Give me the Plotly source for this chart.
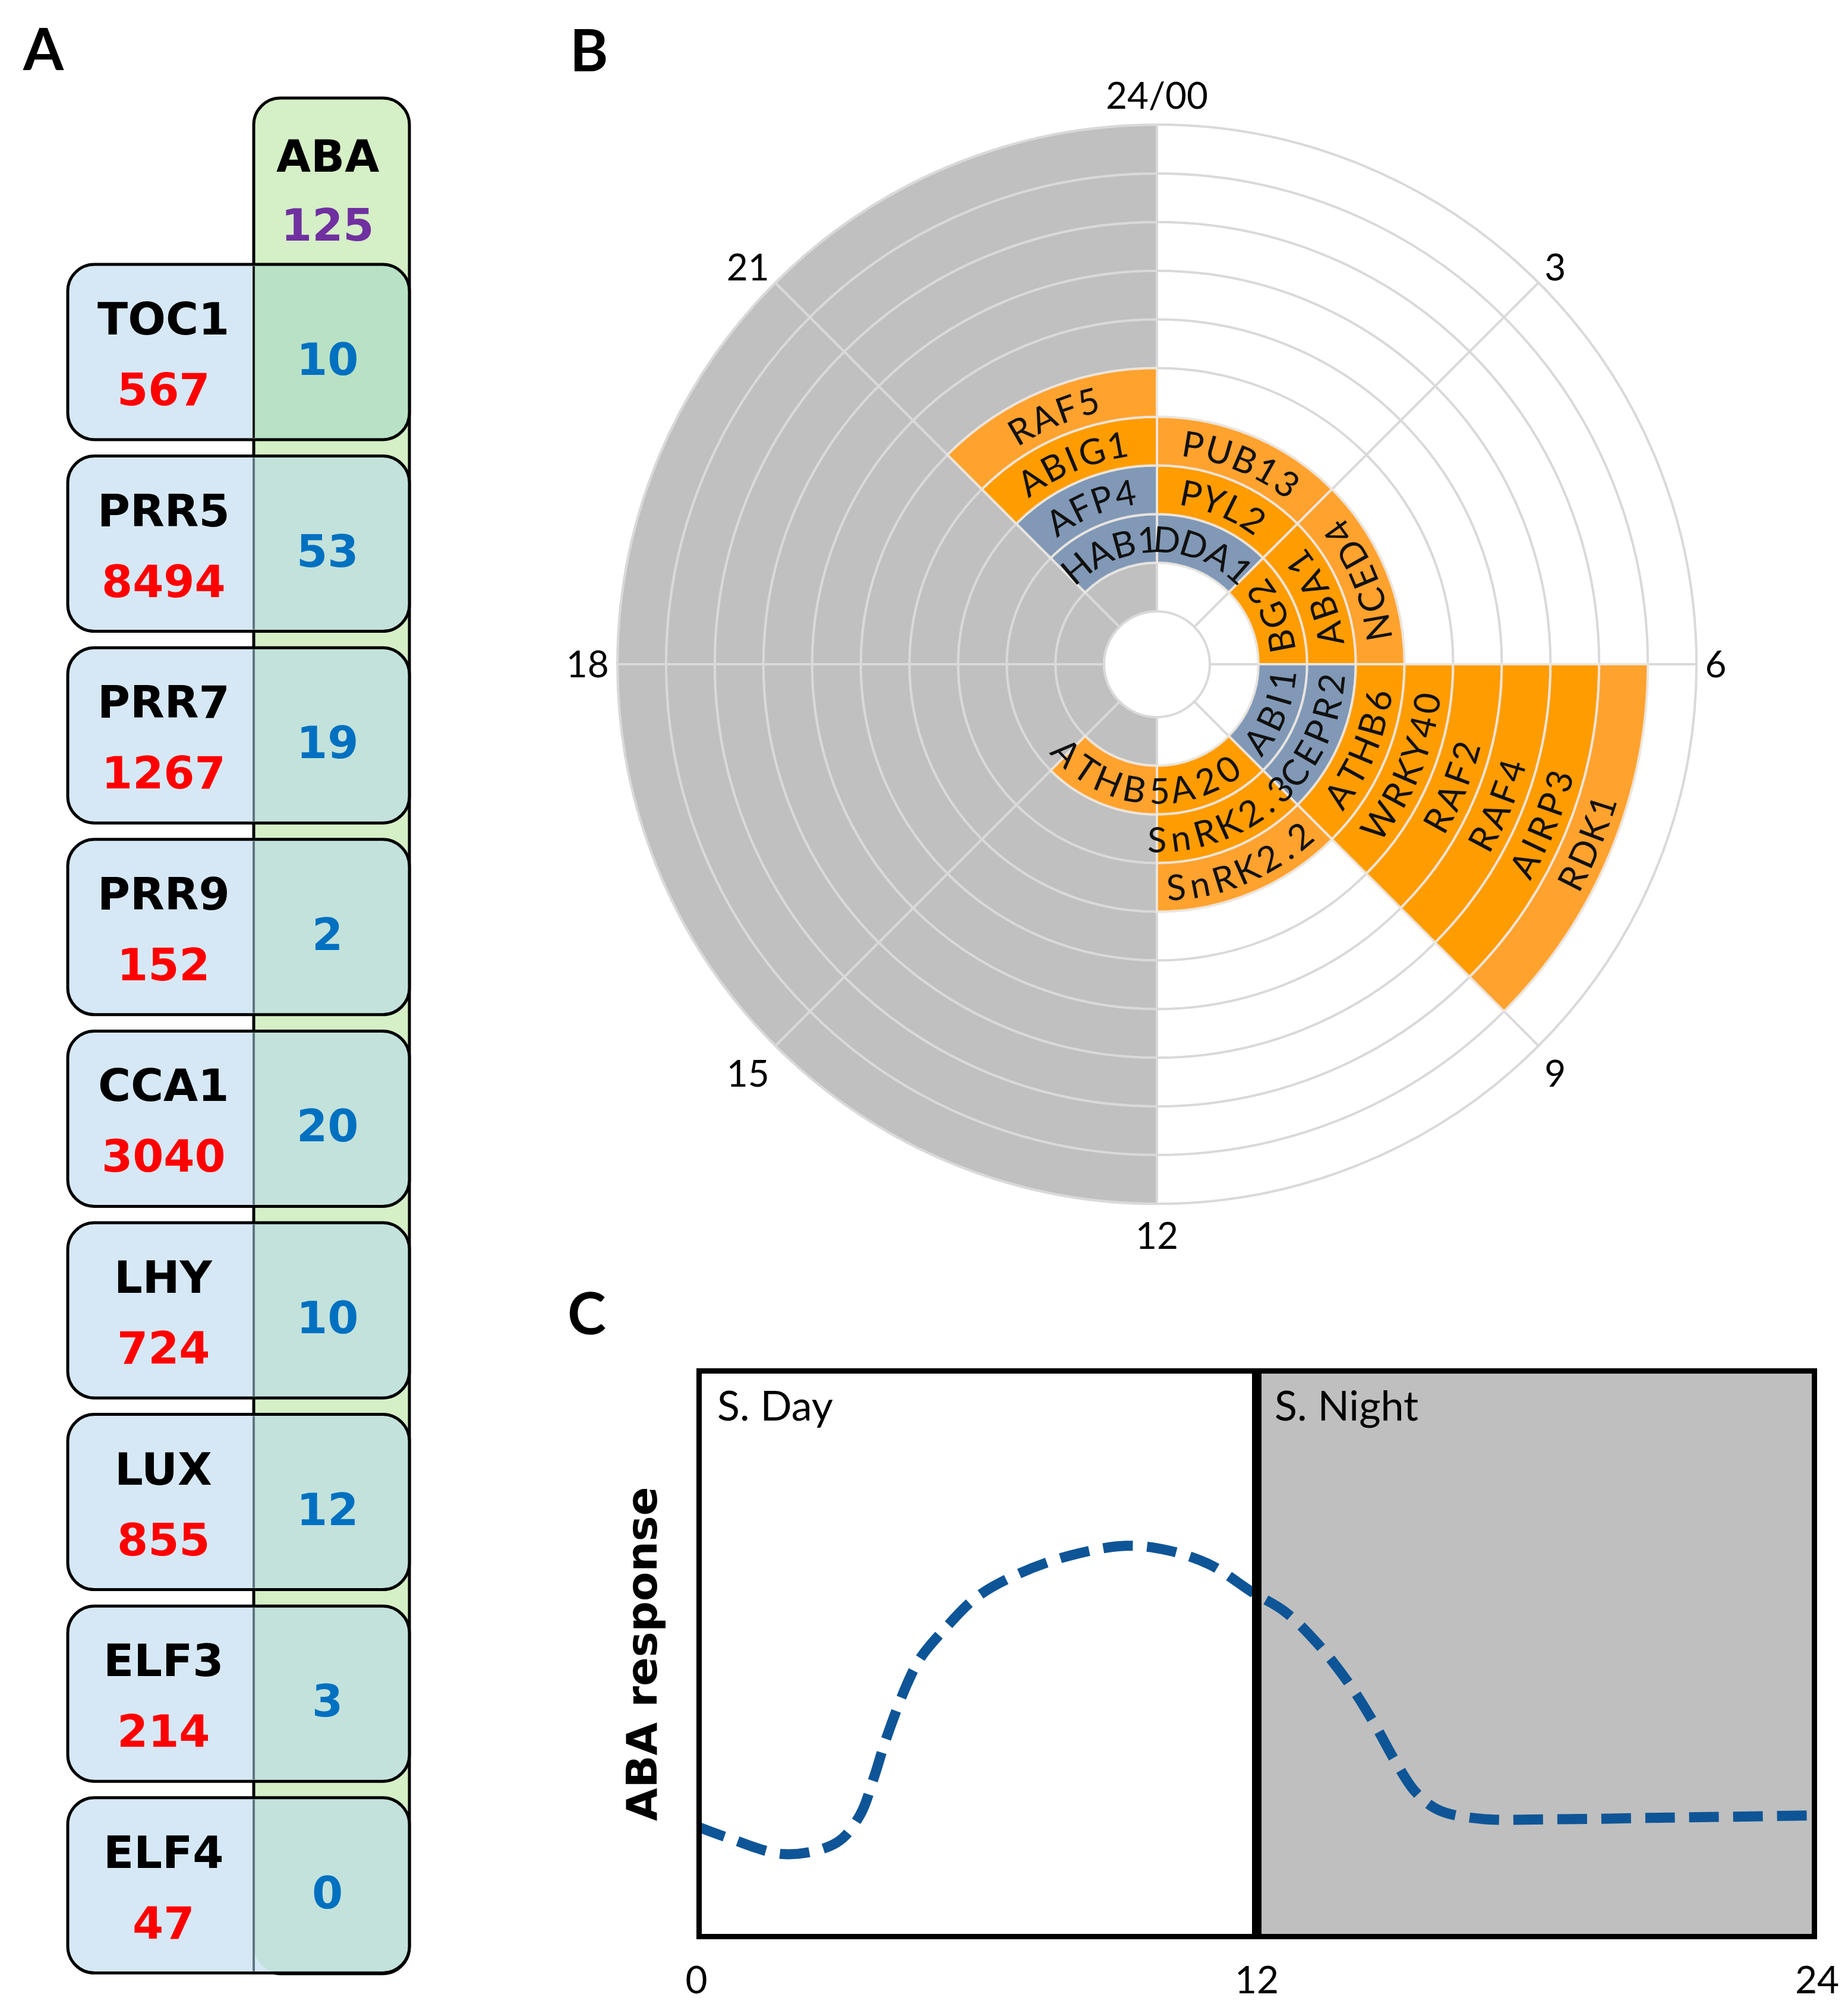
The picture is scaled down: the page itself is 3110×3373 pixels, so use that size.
import numpy as np
import plotly.graph_objects as go

W, H = 3110, 3373

# ---------------- Panel A data ----------------
clock_genes = ["TOC1", "PRR5", "PRR7", "PRR9", "CCA1", "LHY", "LUX", "ELF3", "ELF4"]
clock_targets = [567, 8494, 1267, 152, 3040, 724, 855, 214, 47]
aba_shared = [10, 53, 19, 2, 20, 10, 12, 3, 0]
aba_label = "ABA"
aba_total = 125

# ---------------- Panel B data ----------------
hour_ticks = [0, 3, 6, 9, 12, 15, 18, 21]
hour_tick_labels = ["24/00", "3", "6", "9", "12", "15", "18", "21"]
night_hours = [12, 15, 18, 21]
n_rings = 10
peak_genes = ["DDA1", "PYL2", "PUB13", "BG2", "ABA1", "NCED4",
              "ABI1", "CEPR2", "ATHB6", "WRKY40", "RAF2", "RAF4", "AIRP3", "RDK1",
              "A20", "SnRK2.3", "SnRK2.2", "ATHB5",
              "HAB1", "AFP4", "ABIG1", "RAF5"]
peak_hour = [0, 0, 0, 3, 3, 3,
             6, 6, 6, 6, 6, 6, 6, 6,
             9, 9, 9, 12,
             21, 21, 21, 21]
peak_ring = [1, 2, 3, 1, 2, 3,
             1, 2, 3, 4, 5, 6, 7, 8,
             1, 2, 3, 1,
             1, 2, 3, 4]
peak_group = ["blue", "orange", "orange2", "orange", "orange", "orange2",
              "blue", "blue", "orange", "orange", "orange", "orange", "orange", "orange2",
              "orange", "orange", "orange2", "orange2",
              "blue", "blue", "orange", "orange2"]

# ---------------- Panel C data ----------------
resp_hour = [0, 0.7, 1.9, 3.0, 3.5, 3.8, 4.05, 4.5, 4.8, 5.3, 6.0, 6.9, 8.0, 9.2, 10.1,
             11.0, 11.9, 12.6, 13.3, 14.0, 14.5, 15.0, 15.4, 15.9, 16.8, 18.2, 20.8, 24]
resp_value = [0.198, 0.177, 0.149, 0.169, 0.217, 0.283, 0.348, 0.445, 0.493, 0.542, 0.599,
              0.640, 0.672, 0.689, 0.681, 0.656, 0.608, 0.574, 0.518, 0.445, 0.380, 0.307,
              0.258, 0.226, 0.211, 0.210, 0.213, 0.217]
phase_labels = ["S. Day", "S. Night"]
x_ticks = [0, 12, 24]


def px(x):
    return x / W


def py(y):
    return 1 - y / H


def rrect(x0, y0, x1, y1, r, tl=True, tr=True, br=True, bl=True):
    k = 0.5523 * r

    def P(x, y):
        return f"{px(x):.6f},{py(y):.6f}"
    s = f"M {P(x0 + (r if tl else 0), y0)} L {P(x1 - (r if tr else 0), y0)} "
    if tr:
        s += f"C {P(x1 - r + k, y0)} {P(x1, y0 + r - k)} {P(x1, y0 + r)} "
    s += f"L {P(x1, y1 - (r if br else 0))} "
    if br:
        s += f"C {P(x1, y1 - r + k)} {P(x1 - r + k, y1)} {P(x1 - r, y1)} "
    s += f"L {P(x0 + (r if bl else 0), y1)} "
    if bl:
        s += f"C {P(x0 + r - k, y1)} {P(x0, y1 - r + k)} {P(x0, y1 - r)} "
    s += f"L {P(x0, y0 + (r if tl else 0))} "
    if tl:
        s += f"C {P(x0, y0 + r - k)} {P(x0 + r - k, y0)} {P(x0 + r, y0)} "
    return s + "Z"


def label(x, y, text, size, color="black", family="Lato", weight="normal", angle=0, xanchor="center"):
    return dict(x=px(x), y=py(y), xref="paper", yref="paper", text=text, showarrow=False,
                textangle=angle, xanchor=xanchor, yanchor="middle",
                font=dict(family=family, size=size, color=color, weight=weight))


fig = go.Figure()
shapes = []
annotations = []

# ---------------- Panel A ----------------
A_FONT = "DejaVu Sans"
A_SIZE = 75
col_x0, col_x1, col_y0, col_y1 = 427, 689, 165, 3322
box_x0 = 114
box_top0, box_step, box_h = 445, 322.6, 295
rad = 45
shapes.append(dict(type="path", xref="paper", yref="paper",
                   path=rrect(col_x0, col_y0, col_x1, col_y1, rad),
                   fillcolor="#D5EFC6", line=dict(color="black", width=5), layer="above"))
annotations.append(label(551, 263, aba_label, A_SIZE, family=A_FONT, weight="bold"))
annotations.append(label(551, 379, str(aba_total), A_SIZE, color="#7030A0", family=A_FONT, weight="bold"))
for i, (g, n, s) in enumerate(zip(clock_genes, clock_targets, aba_shared)):
    t = box_top0 + i * box_step
    b = t + box_h
    shapes.append(dict(type="path", xref="paper", yref="paper", path=rrect(box_x0, t, col_x1, b, rad),
                       fillcolor="#D6E8F5", line=dict(width=0), layer="above"))
    shapes.append(dict(type="path", xref="paper", yref="paper",
                       path=rrect(col_x0, t, col_x1, b, rad, tl=False, bl=(i == len(clock_genes) - 1)),
                       fillcolor="#B9E1C5" if i == 0 else "#C3E2DB", line=dict(width=0), layer="above"))
    shapes.append(dict(type="path", xref="paper", yref="paper", path=rrect(box_x0, t, col_x1, b, rad),
                       fillcolor="rgba(0,0,0,0)", line=dict(color="black", width=5), layer="above"))
    shapes.append(dict(type="line", xref="paper", yref="paper", x0=px(col_x0), x1=px(col_x0),
                       y0=py(t + 3), y1=py(b - 3),
                       line=dict(color="#1a1a1a" if i == 0 else "#5E7783", width=4), layer="above"))
    annotations.append(label(275, t + 92, g, A_SIZE, family=A_FONT, weight="bold"))
    annotations.append(label(275, t + 211, str(n), A_SIZE, color="#FF0000", family=A_FONT, weight="bold"))
    annotations.append(label(551, t + 160, str(s), A_SIZE, color="#0070C0", family=A_FONT, weight="bold"))

# panel letters
for letter, (lx, ly) in zip(["A", "B", "C"], [(73, 80), (991, 82), (988, 2208)]):
    annotations.append(label(lx, ly, letter, 98, weight="bold"))

# ---------------- Panel B ----------------
cx, cy, R, hole_px = 1947, 1118, 908, 89
ring_px = (R - hole_px) / n_rings
group_color = {"orange": "#FF9C00", "orange2": "#FFA22E", "blue": "#8199B6"}

g_theta, g_base = [], []
for h in night_hours:
    for k in range(n_rings):
        g_theta.append((h + 1.5) * 15)
        g_base.append(k)
fig.add_trace(go.Barpolar(theta=g_theta, r=[1] * len(g_theta), base=g_base, width=[45] * len(g_theta),
                          marker=dict(color="#C0C0C0", line=dict(color="#D9D9D9", width=4)),
                          hoverinfo="skip", showlegend=False))
fig.add_trace(go.Barpolar(theta=[(h + 1.5) * 15 for h in peak_hour], r=[1] * len(peak_genes),
                          base=peak_ring, width=[45] * len(peak_genes),
                          marker=dict(color=[group_color[g] for g in peak_group],
                                      line=dict(color="rgba(236,232,226,0.9)", width=4)),
                          text=peak_genes, hoverinfo="text", showlegend=False))

fig.update_layout(polar=dict(
    domain=dict(x=[px(cx - R), px(cx + R)], y=[py(cy + R), py(cy - R)]),
    hole=hole_px / R,
    bgcolor="white",
    barmode="overlay",
    radialaxis=dict(range=[0, n_rings], tickvals=list(range(0, n_rings + 1)), showticklabels=False,
                    ticks="", showline=False, gridcolor="#D9D9D9", gridwidth=4),
    angularaxis=dict(rotation=90, direction="clockwise", tickvals=[h * 15 for h in hour_ticks],
                     ticktext=hour_tick_labels, ticks="", showline=True, linecolor="#D9D9D9",
                     linewidth=4, gridcolor="#D9D9D9", gridwidth=4,
                     tickfont=dict(family="Lato", size=62, color="black")),
))

# curved gene labels (one annotation per character along the ring)
CHAR_EM = {'A': .579, 'B': .544, 'C': .533, 'D': .615, 'E': .488, 'F': .459, 'G': .631, 'H': .623,
           'I': .252, 'K': .520, 'L': .420, 'N': .646, 'O': .662, 'P': .517, 'R': .543, 'S': .459,
           'T': .487, 'U': .653, 'W': .890, 'Y': .487, 'n': .525, '.': .252}
cw_sectors = [0, 21]
for name, hr, base in zip(peak_genes, peak_hour, peak_ring):
    theta_c = (hr + 1.5) * 15
    r = hole_px + (base + 0.5) * ring_px
    widths = [CHAR_EM.get(c, 0.507) * 64 + 8 for c in name]
    L = sum(widths)
    s = -L / 2
    cw = hr in cw_sectors
    for c, w in zip(name, widths):
        sc = s + w / 2
        dphi = np.degrees(sc / r)
        phi = theta_c + dphi if cw else theta_c - dphi
        ang = phi if cw else phi + 180
        ang = ((ang + 180) % 360) - 180
        x = cx + r * np.sin(np.radians(phi))
        y = cy - r * np.cos(np.radians(phi))
        annotations.append(label(x, y, c, 60, color="#111111", angle=ang))
        s += w

# ---------------- Panel C ----------------
cx0, cx1, cy0, cy1 = 1172, 3058, 2303, 3264
fig.add_trace(go.Scatter(x=resp_hour, y=resp_value, mode="lines", line_shape="spline",
                         line=dict(color="#0E5597", width=17, dash="50px,24px"),
                         hoverinfo="skip", showlegend=False, xaxis="x", yaxis="y"))
fig.update_layout(
    xaxis=dict(domain=[px(cx0), px(cx1)], range=[0, 24], tickvals=x_ticks, ticktext=[str(v) for v in x_ticks],
               showgrid=False, zeroline=False, showline=False, ticks="", ticklabelstandoff=26,
               tickfont=dict(family="Lato", size=64, color="black"), fixedrange=True, automargin=False),
    yaxis=dict(domain=[py(cy1), py(cy0)], range=[0, 1], showgrid=False, zeroline=False, showline=False,
               showticklabels=False, ticks="", fixedrange=True, automargin=False),
)
shapes.append(dict(type="rect", xref="x", yref="y", x0=12, x1=24, y0=0, y1=1, fillcolor="#BFBFBF",
                   line=dict(width=0), layer="below"))
shapes.append(dict(type="rect", xref="x", yref="y", x0=0, x1=24, y0=0, y1=1, fillcolor="rgba(0,0,0,0)",
                   line=dict(color="black", width=18), layer="above"))
shapes.append(dict(type="line", xref="x", yref="y", x0=12, x1=12, y0=0, y1=1,
                   line=dict(color="black", width=16), layer="above"))
for lab, lx in zip(phase_labels, [1205, 2143]):
    annotations.append(label(lx, 2364, lab, 70, xanchor="left"))
annotations.append(label(1080, 2784, "ABA response", 72, family="DejaVu Sans", weight="bold", angle=-90))

fig.update_layout(width=W, height=H, margin=dict(l=0, r=0, t=0, b=0, autoexpand=False),
                  paper_bgcolor="white", plot_bgcolor="white", showlegend=False,
                  shapes=shapes, annotations=annotations)

fig.write_html("out.html", config={"displayModeBar": False},
               post_script="document.body.style.margin='0';")
